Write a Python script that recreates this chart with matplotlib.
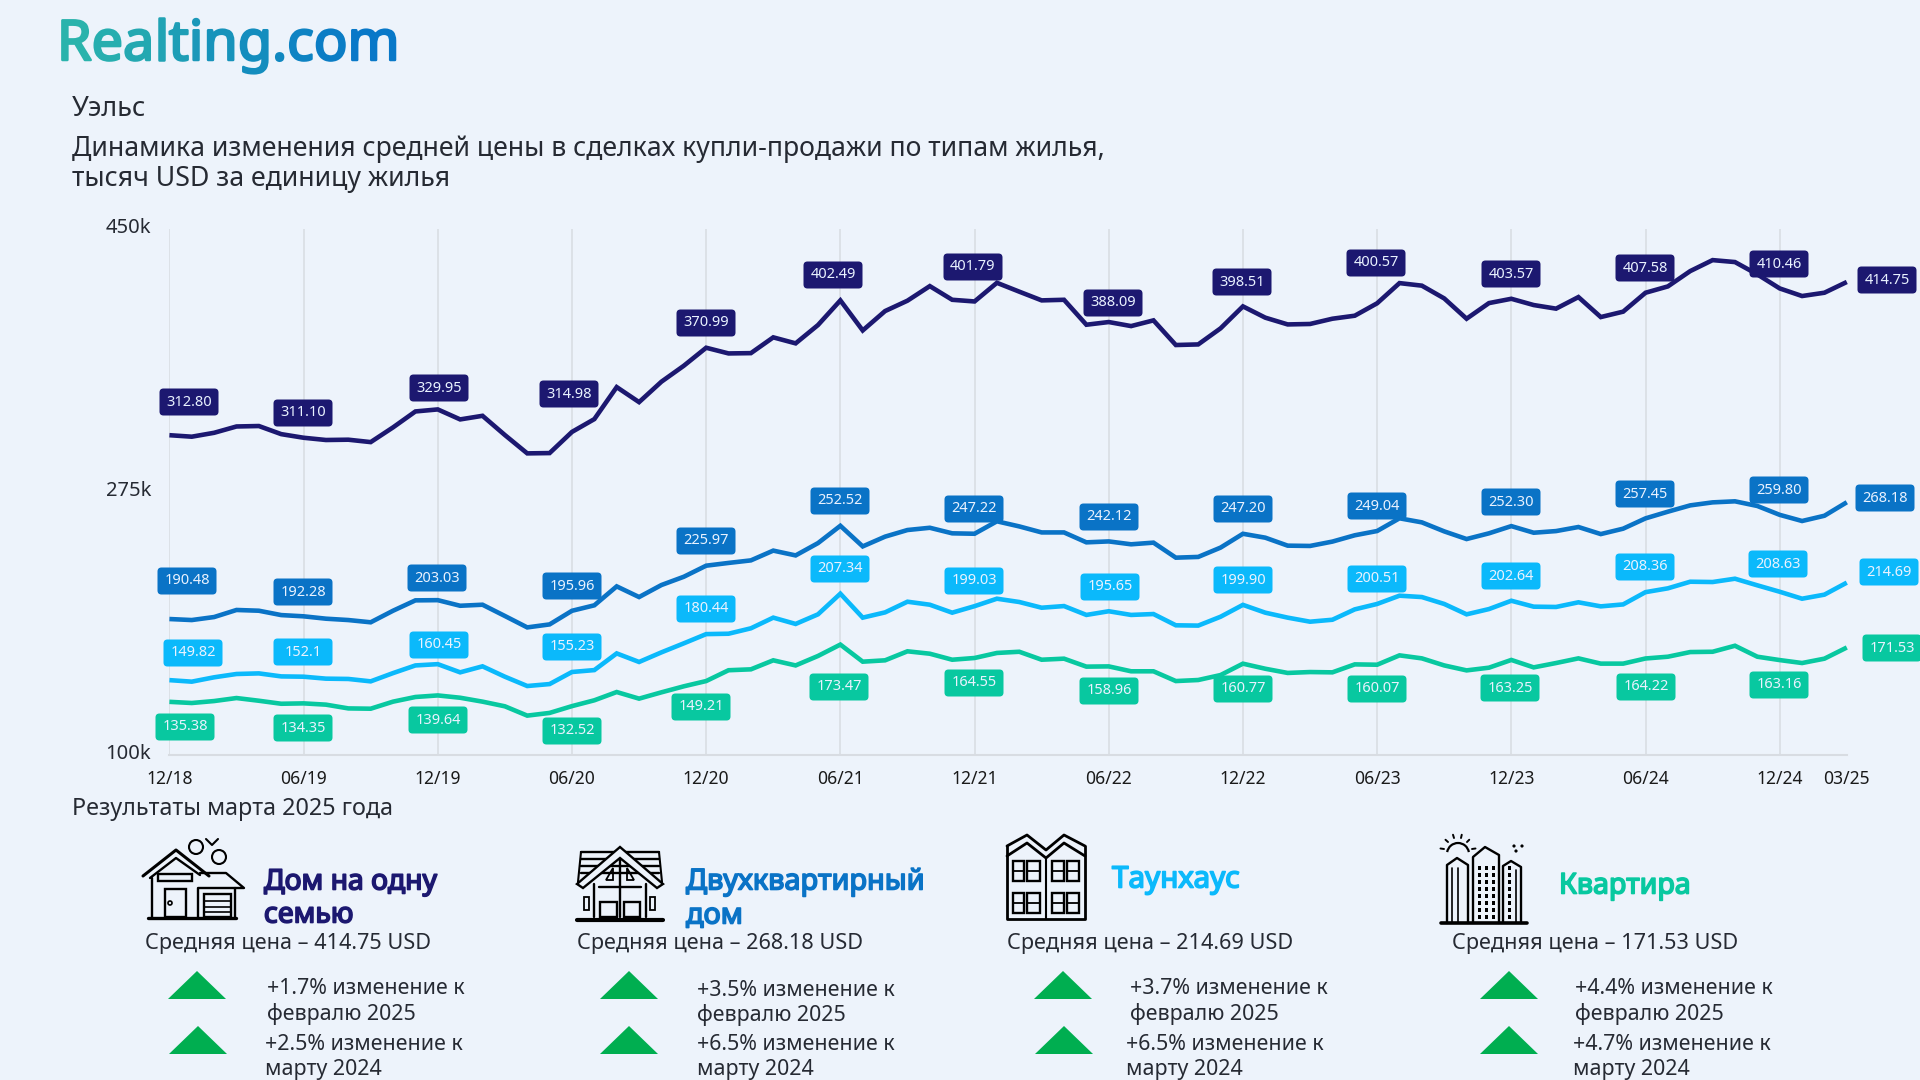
import matplotlib
matplotlib.use("Agg")
import matplotlib.pyplot as plt
import matplotlib.patheffects as pe
from matplotlib.patches import FancyBboxPatch, Polygon, Rectangle, Circle, Arc
from matplotlib.transforms import ScaledTranslation

plt.rcParams['font.family'] = ['Noto Sans', 'DejaVu Sans']

# monthly values, 12/18 .. 03/25, thousand USD
months = list(range(76))
tick_months = [0, 6, 12, 18, 24, 30, 36, 42, 48, 54, 60, 66, 72, 75]
tick_labels = ['12/18', '06/19', '12/19', '06/20', '12/20', '06/21', '12/21', '06/22',
               '12/22', '06/23', '12/23', '06/24', '12/24', '03/25']

house = [312.8, 311.8, 314.4, 318.6, 318.9, 313.5, 311.1, 309.6, 309.8, 308.2, 318.0, 328.6, 329.95,
         323.3, 325.7, 312.9, 300.7, 300.9, 314.98, 323.5, 344.8, 334.8, 348.4, 359.0, 370.99, 367.2,
         367.4, 377.9, 373.9, 386.1, 402.49, 382.5, 395.4, 402.3, 412.0, 402.9, 401.79, 414.2, 408.3,
         402.5, 402.9, 386.3, 388.09, 385.4, 389.2, 372.8, 373.2, 383.9, 398.51, 391.0, 386.5, 386.8,
         390.3, 392.3, 400.57, 414.0, 412.3, 403.8, 390.3, 400.7, 403.57, 399.4, 397.0, 404.7, 391.4,
         395.0, 407.58, 411.8, 422.0, 429.3, 428.0, 419.8, 410.46, 405.4, 407.6, 414.75]
duplex = [190.48, 189.8, 191.8, 196.5, 196.0, 193.1, 192.28, 190.7, 189.8, 188.3, 196.0, 202.9, 203.03,
          199.3, 200.0, 192.5, 184.9, 186.9, 195.96, 199.6, 212.2, 205.1, 213.1, 218.6, 225.97, 227.8,
          229.5, 236.0, 232.8, 241.0, 252.52, 238.8, 245.3, 249.7, 251.2, 247.5, 247.22, 255.5, 252.1,
          248.1, 248.1, 241.5, 242.12, 240.2, 241.3, 231.3, 231.8, 238.0, 247.2, 244.6, 239.3, 239.1,
          242.0, 246.2, 249.04, 257.5, 254.8, 248.8, 243.7, 247.5, 252.3, 247.9, 249.0, 251.7, 247.0,
          250.6, 257.45, 261.9, 266.1, 268.1, 268.8, 265.7, 259.8, 255.7, 259.2, 268.18]
townhouse = [149.82, 148.8, 151.7, 153.9, 154.3, 152.3, 152.1, 150.8, 150.6, 149.0, 154.5, 159.6, 160.45,
             155.0, 159.0, 152.1, 145.9, 147.2, 155.23, 156.5, 167.6, 161.9, 168.3, 174.3, 180.44, 180.7,
             184.3, 191.4, 187.2, 193.6, 207.34, 191.4, 194.9, 202.0, 200.0, 194.7, 199.03, 204.0, 201.8,
             198.0, 199.1, 193.2, 195.65, 193.2, 193.8, 186.3, 186.1, 192.0, 199.9, 194.7, 191.4, 188.7,
             190.0, 196.9, 200.51, 206.0, 205.1, 200.5, 193.6, 197.1, 202.64, 198.7, 198.5, 201.6, 198.9,
             200.2, 208.36, 210.9, 215.3, 215.1, 217.3, 212.9, 208.63, 204.0, 206.7, 214.69]
flat = [135.38, 134.6, 135.9, 137.9, 136.1, 134.1, 134.35, 133.5, 131.0, 130.8, 135.5, 138.6, 139.64,
        138.1, 135.5, 132.4, 126.2, 128.0, 132.52, 136.4, 141.9, 137.5, 141.7, 145.7, 149.21, 156.4,
        157.0, 163.0, 159.6, 165.9, 173.47, 162.1, 163.0, 169.0, 167.4, 163.4, 164.55, 167.9, 168.7,
        163.4, 164.1, 158.8, 158.96, 155.7, 155.7, 149.2, 149.9, 153.2, 160.77, 157.4, 154.6, 155.2,
        155.0, 160.3, 160.07, 166.3, 164.3, 159.6, 156.3, 158.1, 163.25, 158.3, 161.2, 164.3, 160.8,
        160.8, 164.22, 165.4, 168.5, 168.7, 172.7, 165.4, 163.16, 161.2, 164.1, 171.53]

# value labels shown on the chart
house_labels = ['312.80', '311.10', '329.95', '314.98', '370.99', '402.49', '401.79', '388.09',
                '398.51', '400.57', '403.57', '407.58', '410.46', '414.75']
duplex_labels = ['190.48', '192.28', '203.03', '195.96', '225.97', '252.52', '247.22', '242.12',
                 '247.20', '249.04', '252.30', '257.45', '259.80', '268.18']
townhouse_labels = ['149.82', '152.1', '160.45', '155.23', '180.44', '207.34', '199.03', '195.65',
                    '199.90', '200.51', '202.64', '208.36', '208.63', '214.69']
flat_labels = ['135.38', '134.35', '139.64', '132.52', '149.21', '173.47', '164.55', '158.96',
               '160.77', '160.07', '163.25', '164.22', '163.16', '171.53']

names = [['Дом на одну', 'семью'], ['Двухквартирный', 'дом'], ['Таунхаус'], ['Квартира']]
prices = ['414.75', '268.18', '214.69', '171.53']
change_month = ['+1.7%', '+3.5%', '+3.7%', '+4.4%']
change_year = ['+2.5%', '+6.5%', '+6.5%', '+4.7%']

# label box centres in figure pixels
house_pos = [(189, 402), (303, 413), (439, 388), (569, 394), (706, 323), (833, 275), (973, 267),
             (1113, 303), (1242, 282), (1376, 263), (1511, 274), (1645, 268), (1779, 264), (1887, 280)]
duplex_pos = [(187, 581), (303, 592), (437, 578), (572, 586), (706, 541), (840, 501), (974, 509),
              (1109, 517), (1243, 509), (1377, 506), (1511, 502), (1645, 494), (1779, 490), (1885, 498)]
townhouse_pos = [(193, 653), (303, 652), (439, 645), (572, 647), (706, 609), (840, 569), (974, 581),
                 (1110, 587), (1243, 580), (1377, 579), (1511, 576), (1645, 567), (1778, 564), (1889, 572)]
flat_pos = [(185, 727), (303, 728), (438, 720), (572, 731), (701, 707), (839, 687), (974, 683),
            (1109, 691), (1243, 689), (1377, 689), (1510, 688), (1646, 687), (1779, 685), (1892, 648)]

BG = '#EDF3FB'
NAVY, BLUE, SKY, GREEN = '#1C1870', '#0A73C6', '#0BB9FB', '#08C8A0'
TEXT = '#262a33'


def draw_chart(fig):
    ax = fig.add_axes([169.4 / 1920, 1 - 755 / 1080, (1846.8 - 169.4) / 1920, 526 / 1080])
    ax.set_facecolor('none')
    ax.set_xlim(0, 75)
    ax.set_ylim(100, 450)
    for month in tick_months[:-1]:
        ax.axvline(month, color='#D8DCE2', lw=1.1, zorder=1)
    for values, color in [(house, NAVY), (duplex, BLUE), (townhouse, SKY), (flat, GREEN)]:
        ax.plot(months, values, color=color, lw=3.3, solid_joinstyle='miter', solid_capstyle='butt',
                clip_on=False, zorder=3)
    for side in ['top', 'left', 'right']:
        ax.spines[side].set_visible(False)
    ax.spines['bottom'].set_color('#D8DCE2')
    ax.spines['bottom'].set_linewidth(1.5)
    ax.set_xticks(tick_months, tick_labels)
    ax.set_yticks([100, 275, 450], ['100k', '275k', '450k'])
    ax.tick_params(axis='x', length=0, pad=10.5, labelsize=12.6, labelcolor='#1a1a1a')
    ax.tick_params(axis='y', length=0, pad=13, labelsize=14.5, labelcolor=TEXT)
    # reference labels sit slightly above their values
    shift = ScaledTranslation(0, 2.5 / 72, fig.dpi_scale_trans)
    for label in ax.get_yticklabels():
        label.set_transform(label.get_transform() + shift)


def draw_labels(ov, labels, positions, color):
    w, h, r = 59, 27, 4
    for text, (x, y) in zip(labels, positions):
        ov.add_patch(FancyBboxPatch((x - w / 2 + r, y - h / 2 + r), w - 2 * r, h - 2 * r,
                                    boxstyle=f'round,pad={r},rounding_size={r}',
                                    fc=color, ec='none', zorder=5))
        ov.text(x, y, text, color='#E9F2FF', fontsize=10.5, ha='center', va='center', zorder=6)


def draw_logo(fig, ov):
    # one text per letter so the colour can run from teal to blue
    word = 'Realting.com'
    renderer = fig.canvas.get_renderer()
    start, end = (42, 179, 172), (8, 120, 200)
    size = 40
    for i, ch in enumerate(word):
        t = i / (len(word) - 1)
        color = tuple((a + (b - a) * t) / 255 for a, b in zip(start, end))
        dx = 0
        if i:
            probe = ov.text(0, 0, word[:i + 1], fontsize=size)
            last = ov.text(0, 0, ch, fontsize=size)
            dx = probe.get_window_extent(renderer).width - last.get_window_extent(renderer).width
            probe.remove()
            last.remove()
        ov.text(57 + dx * 1.005, 60, ch, color=color, fontsize=size, va='baseline',
                path_effects=[pe.withStroke(linewidth=1.8, foreground=color)])


def line(ov, pts, lw=1.7, color='black'):
    xs, ys = zip(*pts)
    ov.plot(xs, ys, color=color, lw=lw, solid_capstyle='round', solid_joinstyle='round')


def box(ov, x0, y0, x1, y1, lw=1.7):
    ov.add_patch(Rectangle((x0, y0), x1 - x0, y1 - y0, fc='none', ec='black', lw=lw))


def icon_house(ov):
    line(ov, [(143, 876), (176, 850), (209, 876)], 2.2)
    line(ov, [(150, 878), (176, 858), (200, 875)])
    line(ov, [(152, 878), (152, 917)])
    line(ov, [(148, 918), (236, 918)], 2.4)
    line(ov, [(200, 873), (226, 873), (244, 888), (198, 888), (198, 917)])
    line(ov, [(235, 888), (235, 917)])
    box(ov, 164.5, 889, 186, 917)
    box(ov, 158, 874, 192, 881)
    box(ov, 204, 894, 231, 917)
    for y in [901, 907, 912]:
        line(ov, [(204, y), (231, y)], 1.2)
    ov.add_patch(Circle((170, 903), 2, fc='none', ec='black', lw=1.2))
    ov.add_patch(Circle((196, 847), 7, fc='none', ec='black', lw=1.5))
    ov.add_patch(Circle((219, 857), 7, fc='none', ec='black', lw=1.5))
    line(ov, [(206, 839), (212, 845), (218, 839)], 1.5)


def icon_duplex(ov):
    for y in [852, 859, 866, 873]:
        line(ov, [(581, y), (659, y)], 1.7)
    line(ov, [(581, 852), (578, 882)], 1.5)
    line(ov, [(659, 852), (662, 882)], 1.5)
    ov.add_patch(Polygon([(577, 884), (620, 847), (663, 884), (657, 888), (620, 858), (583, 888)],
                         fc=BG, ec='black', lw=1.7, zorder=3))
    line(ov, [(594, 884), (594, 917)])
    line(ov, [(646, 884), (646, 917)])
    line(ov, [(620, 860), (620, 917)])
    line(ov, [(599, 887), (641, 887)])
    box(ov, 600, 902, 617, 917)
    box(ov, 624, 902, 640, 917)
    box(ov, 584, 897, 589, 910, 1.3)
    box(ov, 650, 897, 655, 910, 1.3)
    ov.add_patch(Polygon([(606, 880), (613, 868), (613, 880)], fc='none', ec='black', lw=1.3))
    ov.add_patch(Polygon([(627, 868), (634, 880), (627, 880)], fc='none', ec='black', lw=1.3))
    line(ov, [(577, 920), (663, 920)], 3)


def icon_townhouse(ov):
    line(ov, [(1007, 846), (1027, 835), (1046, 850), (1064, 835), (1085, 846)], 2)
    line(ov, [(1007, 856), (1027, 843), (1046, 858), (1064, 843), (1085, 856)], 2)
    line(ov, [(1007, 846), (1007, 919), (1085, 919), (1085, 846)], 2)
    line(ov, [(1046, 858), (1046, 919)], 1.5)
    for y0, y1 in [(861, 881), (893, 913)]:
        for x0, x1 in [(1013, 1024), (1027, 1040), (1052, 1064), (1067, 1079)]:
            box(ov, x0, y0, x1, y1)
            line(ov, [(x0, (y0 + y1) / 2), (x1, (y0 + y1) / 2)], 1.3)


def icon_flats(ov):
    line(ov, [(1441, 923), (1527, 923)], 2.6)
    line(ov, [(1447, 923), (1447, 865), (1457, 858), (1468, 865), (1468, 923)])
    line(ov, [(1473, 923), (1473, 857), (1485, 847), (1499, 855), (1499, 923)])
    line(ov, [(1503, 923), (1503, 866), (1511, 861), (1521, 867), (1521, 923)])
    line(ov, [(1452, 868), (1452, 923)], 1.2)
    line(ov, [(1458, 868), (1458, 923)], 1.2)
    line(ov, [(1516, 870), (1516, 923)], 1.2)
    for x in [1479, 1486, 1493, 1509]:
        for i in range(8):
            ov.add_patch(Rectangle((x - 1.4, 866 + i * 7), 3.2, 4, fc='black', ec='none'))
    ov.add_patch(Arc((1458, 854), 22, 22, theta1=190, theta2=350, ec='black', lw=1.6))
    for dx, dy in [(-14, -2), (-10, -9), (-4, -13), (3, -13), (9, -9), (14, -2)]:
        line(ov, [(1458 + dx, 851 + dy), (1458 + dx * 1.25, 851 + dy * 1.25)], 1.4)
    for x, y in [(1514, 846), (1522, 846), (1516, 851)]:
        ov.add_patch(Circle((x, y), 1.6, fc='black', ec='none'))


def draw_summary(ov):
    name_x = [264, 686, 1112, 1559]
    name_y = [[882, 915], [882, 916], [880], [886]]
    name_colors = [NAVY, BLUE, SKY, GREEN]
    name_sizes = [20.4, 20.8, 21.4, 20.6]
    price_x = [145, 577, 1007, 1452]
    tri_x = [(197, 198), (629, 629), (1063, 1064), (1509, 1509)]
    up_x = [(267, 265), (697, 697), (1130, 1126), (1575, 1573)]
    up_y = [(989, 1014), (991, 1015), (989, 1014), (989, 1014)]
    for i in range(4):
        for text, y in zip(names[i], name_y[i]):
            ov.text(name_x[i], y, text, color=name_colors[i], fontsize=name_sizes[i], va='center',
                    path_effects=[pe.withStroke(linewidth=1.2, foreground=name_colors[i])])
        ov.text(price_x[i], 944, f'Средняя цена – {prices[i]} USD', color=TEXT, fontsize=15.6, va='center')
        for cx, (top, bottom) in zip(tri_x[i], [(971, 999), (1026, 1054)]):
            ov.add_patch(Polygon([(cx - 29, bottom), (cx, top), (cx + 29, bottom)], fc='#00AE50', ec='none'))
        ov.text(up_x[i][0], up_y[i][0], f'{change_month[i]} изменение к', color=TEXT, fontsize=15.4, va='center')
        ov.text(up_x[i][0], up_y[i][1], 'февралю 2025', color=TEXT, fontsize=15.4, va='center')
        ov.text(up_x[i][1], 1045, f'{change_year[i]} изменение к', color=TEXT, fontsize=15.4, va='center')
        ov.text(up_x[i][1], 1070, 'марту 2024', color=TEXT, fontsize=15.4, va='center')


fig = plt.figure(figsize=(19.2, 10.8), dpi=100, facecolor=BG)
draw_chart(fig)

# overlay in figure pixels for everything around the chart
ov = fig.add_axes([0, 0, 1, 1])
ov.set_xlim(0, 1920)
ov.set_ylim(1080, 0)
ov.axis('off')

draw_logo(fig, ov)
ov.text(72, 116, 'Уэльс', color=TEXT, fontsize=19.6, va='baseline')
ov.text(72, 156, 'Динамика изменения средней цены в сделках купли-продажи по типам жилья,',
        color=TEXT, fontsize=19.2, va='baseline')
ov.text(72, 186, 'тысяч USD за единицу жилья', color=TEXT, fontsize=19.2, va='baseline')
ov.text(72, 815, 'Результаты марта 2025 года', color=TEXT, fontsize=16.8, va='baseline')

draw_labels(ov, house_labels, house_pos, NAVY)
draw_labels(ov, duplex_labels, duplex_pos, BLUE)
draw_labels(ov, townhouse_labels, townhouse_pos, SKY)
draw_labels(ov, flat_labels, flat_pos, GREEN)

icon_house(ov)
icon_duplex(ov)
icon_townhouse(ov)
icon_flats(ov)
draw_summary(ov)
ov.set_xlim(0, 1920)
ov.set_ylim(1080, 0)

fig.savefig('out.png', dpi=100, facecolor=BG)
